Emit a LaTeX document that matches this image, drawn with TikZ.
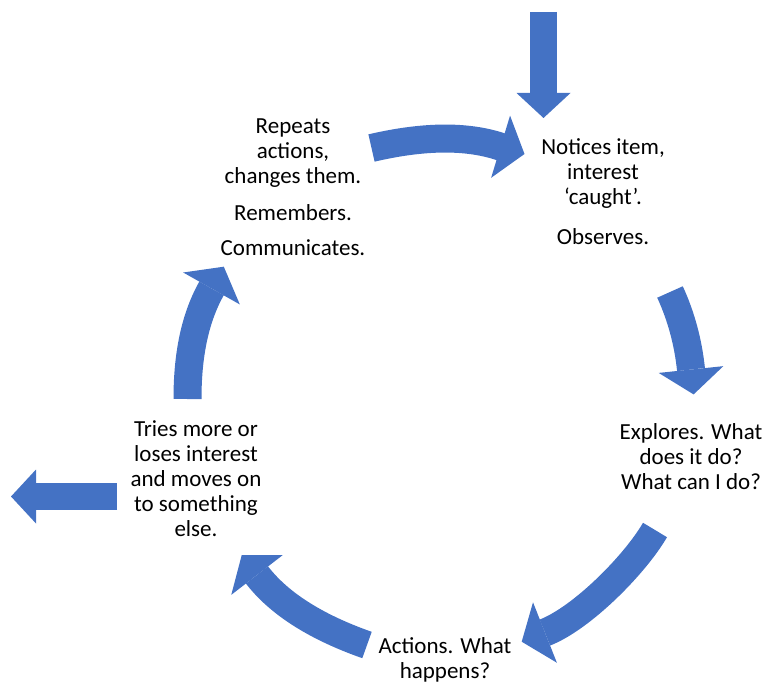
\documentclass[tikz,border=0pt]{standalone}
\usepackage{fontspec}
\setmainfont{Carlito}
\usetikzlibrary{arrows.meta}
\definecolor{oblue}{HTML}{4472C4}
\begin{document}
\begin{tikzpicture}[x=1pt,y=-1pt,
  lbl/.style={align=center,inner sep=0pt,font=\fontsize{23}{25}\selectfont},
  curvarrow/.style={draw=oblue,line width=28pt,
    -{Triangle[length=25pt,width=65pt,line width=0pt]}},
  straightarrow/.style={draw=oblue,line width=27pt,
    -{Triangle[length=25pt,width=54pt,line width=0pt]}}]
\useasboundingbox (0,0) rectangle (765,684);
% text nodes
\node[lbl] (notices) at (603,192) {Notices item,\\interest\\‘caught’.\\[15pt]Observes.};
\node[lbl] (repeats) at (293,187) {Repeats\\actions,\\changes them.\\[12pt]Remembers.\\[10pt]Communicates.};
\node[lbl] (explores) at (691,457) {Explores. What\\does it do?\\What can I do?};
\node[lbl] (actions) at (445,660) {Actions. What\\happens?};
\node[lbl] (tries) at (196,479) {Tries more or\\loses interest\\and moves on\\to something\\else.};
% arrow end points
\coordinate (inS) at (543.5,12);
\coordinate (inE) at (543.5,118);
\coordinate (outS) at (117,496.5);
\coordinate (outE) at (11,496.5);
\coordinate (aS) at (371.5,148); \coordinate (aB) at (501.5,147); \coordinate (aE) at (524.5,154);
\coordinate (bS) at (670,292);   \coordinate (bB) at (691,369.5); \coordinate (bE) at (693.6,394.4);
\coordinate (cS) at (655,530);   \coordinate (cB) at (545,632.5); \coordinate (cE) at (521.7,641.7);
\coordinate (dS) at (367,645);   \coordinate (dB) at (257,575);   \coordinate (dE) at (241.7,555.2);
\coordinate (eS) at (187.5,399); \coordinate (eB) at (211.5,288.5); \coordinate (eE) at (223.8,266.7);
% arrows
\draw[straightarrow] (inS) -- (inE);
\draw[straightarrow] (outS) -- (outE);
\draw[curvarrow] (aS) .. controls (413.4,138.3) and (460.8,133.2) .. (aB) -- (aE);
\draw[curvarrow] (bS) .. controls (681.3,316.5) and (688.2,342.7) .. (bB) -- (bE);
\draw[curvarrow] (cS) .. controls (635,564.4) and (582.2,617.9) .. (cB) -- (cE);
\draw[curvarrow] (dS) .. controls (326.6,630.8) and (283.2,609) .. (dB) -- (dE);
\draw[curvarrow] (eS) .. controls (187.5,361) and (192.9,321.6) .. (eB) -- (eE);
\end{tikzpicture}
\end{document}
